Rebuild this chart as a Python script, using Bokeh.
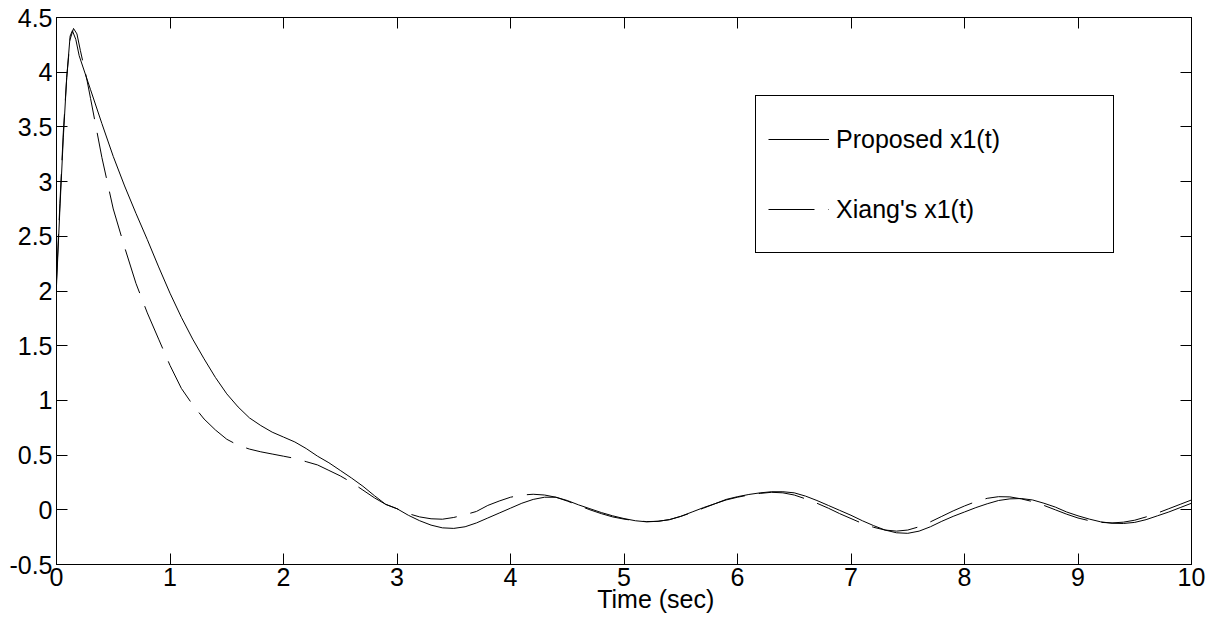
from bokeh.plotting import figure
from bokeh.models import (Range1d, LinearAxis, FixedTicker, PrintfTickFormatter, Legend,
                          CustomLabelingPolicy, CustomJSTickFormatter)
from bokeh.embed import file_html
from bokeh.resources import INLINE

# Proposed controller response x1(t)
t_proposed = [0.0, 0.03, 0.06, 0.09, 0.12, 0.14, 0.17, 0.2, 0.3, 0.4, 0.5, 0.6, 0.7, 0.8, 0.9,
              1.0, 1.1, 1.2, 1.3, 1.4, 1.5, 1.6, 1.7, 1.8, 1.9, 2.0, 2.1, 2.2, 2.3, 2.4, 2.5,
              2.6, 2.7, 2.8, 2.9, 3.0, 3.1, 3.2, 3.3, 3.4, 3.5, 3.6, 3.7, 3.8, 3.9, 4.0, 4.1,
              4.2, 4.3, 4.4, 4.5, 4.6, 4.7, 4.8, 4.9, 5.0, 5.1, 5.2, 5.3, 5.4, 5.5, 5.6, 5.7,
              5.8, 5.9, 6.0, 6.1, 6.2, 6.3, 6.4, 6.5, 6.6, 6.7, 6.8, 6.9, 7.0, 7.1, 7.2, 7.3,
              7.4, 7.5, 7.6, 7.7, 7.8, 7.9, 8.0, 8.1, 8.2, 8.3, 8.4, 8.5, 8.6, 8.7, 8.8, 8.9,
              9.0, 9.1, 9.2, 9.3, 9.4, 9.5, 9.6, 9.7, 9.8, 9.9, 10.0]
x1_proposed = [2.05, 2.75, 3.4, 3.95, 4.33, 4.38, 4.30, 4.15, 3.84, 3.53, 3.23, 2.96, 2.71, 2.47, 2.22,
               1.98, 1.76, 1.56, 1.38, 1.21, 1.06, 0.94, 0.84, 0.77, 0.71, 0.665, 0.62, 0.56, 0.49, 0.43, 0.36,
               0.29, 0.215, 0.13, 0.05, 0.01, -0.05, -0.10, -0.14, -0.165, -0.17, -0.155, -0.12, -0.075, -0.03, 0.015, 0.06,
               0.095, 0.115, 0.115, 0.085, 0.045, 0.01, -0.025, -0.055, -0.08, -0.10, -0.11, -0.105, -0.09, -0.06, -0.02, 0.02,
               0.055, 0.095, 0.12, 0.14, 0.155, 0.165, 0.165, 0.155, 0.125, 0.085, 0.04, -0.005, -0.05, -0.10, -0.145, -0.185,
               -0.21, -0.215, -0.195, -0.155, -0.105, -0.06, -0.02, 0.02, 0.055, 0.085, 0.10, 0.103, 0.09, 0.06, 0.025, -0.02,
               -0.055, -0.085, -0.11, -0.123, -0.125, -0.115, -0.09, -0.055, -0.02, 0.02, 0.06]

# Xiang's controller response x1(t)
t_xiang = [0.0, 0.03, 0.06, 0.09, 0.12, 0.15, 0.18, 0.21, 0.27, 0.3, 0.4, 0.5, 0.6, 0.7, 0.8, 0.9,
           1.0, 1.1, 1.2, 1.3, 1.4, 1.5, 1.6, 1.7, 1.8, 1.9, 2.0, 2.1, 2.2, 2.3, 2.4, 2.5,
           2.6, 2.7, 2.8, 2.9, 3.0, 3.1, 3.2, 3.3, 3.4, 3.5, 3.6, 3.7, 3.8, 3.9, 4.0, 4.1,
           4.2, 4.3, 4.4, 4.5, 4.6, 4.7, 4.8, 4.9, 5.0, 5.1, 5.2, 5.3, 5.4, 5.5, 5.6, 5.7,
           5.8, 5.9, 6.0, 6.1, 6.2, 6.3, 6.4, 6.5, 6.6, 6.7, 6.8, 6.9, 7.0, 7.1, 7.2, 7.3,
           7.4, 7.5, 7.6, 7.7, 7.8, 7.9, 8.0, 8.1, 8.2, 8.3, 8.4, 8.5, 8.6, 8.7, 8.8, 8.9,
           9.0, 9.1, 9.2, 9.3, 9.4, 9.5, 9.6, 9.7, 9.8, 9.9, 10.0]
x1_xiang = [2.1, 2.8, 3.45, 3.95, 4.3, 4.4, 4.35, 4.2, 3.92, 3.76, 3.22, 2.75, 2.40, 2.07, 1.80, 1.56,
            1.32, 1.11, 0.96, 0.83, 0.73, 0.645, 0.59, 0.555, 0.53, 0.51, 0.49, 0.47, 0.44, 0.41, 0.36, 0.31,
            0.25, 0.18, 0.11, 0.05, 0.01, -0.035, -0.065, -0.082, -0.086, -0.07, -0.045, -0.015, 0.04, 0.08, 0.115, 0.135,
            0.142, 0.135, 0.115, 0.08, 0.04, 0.0, -0.035, -0.065, -0.085, -0.10, -0.108, -0.105, -0.09, -0.06, -0.025, 0.015,
            0.055, 0.09, 0.115, 0.135, 0.15, 0.16, 0.155, 0.135, 0.10, 0.06, 0.015, -0.035, -0.08, -0.125, -0.16, -0.185,
            -0.195, -0.185, -0.155, -0.11, -0.06, -0.01, 0.035, 0.075, 0.105, 0.12, 0.118, 0.10, 0.075, 0.04, 0.0, -0.04,
            -0.075, -0.10, -0.115, -0.12, -0.113, -0.095, -0.065, -0.03, 0.01, 0.05, 0.09]

x_ticks = [0, 1, 2, 3, 4, 5, 6, 7, 8, 9, 10]
y_ticks = [-0.5, 0, 0.5, 1, 1.5, 2, 2.5, 3, 3.5, 4, 4.5]
series_labels = ["Proposed x1(t)", "Xiang's x1(t)"]
x_title = "Time (sec)"
x_title_at = 5.28

FONT = "Liberation Sans"
FS = "25px"

p = figure(width=1219, height=630, output_backend="svg", toolbar_location=None,
           x_range=Range1d(0, 10), y_range=Range1d(-0.5, 4.5),
           min_border_left=56, min_border_right=28, min_border_top=17, min_border_bottom=66,
           background_fill_color="white", border_fill_color="white")
p.grid.visible = False
p.outline_line_color = "black"
p.outline_line_alpha = 1.0
p.outline_line_width = 1

fmt = PrintfTickFormatter(format="%g")
# the mirrored box axes carry ticks only
no_labels = CustomLabelingPolicy(code="""
for (const i of Array.from(indices)) indices.unset(i)
return indices
""")


def style_axis(ax, ticks, show_labels):
    ax.ticker = FixedTicker(ticks=ticks, minor_ticks=[])
    ax.formatter = fmt
    ax.axis_line_color = "black"
    ax.axis_line_width = 1
    ax.major_tick_in = 11
    ax.major_tick_out = 0
    ax.major_tick_line_color = "black"
    ax.minor_tick_line_color = None
    ax.major_label_text_font = FONT
    ax.major_label_text_color = "black"
    if show_labels:
        ax.major_label_text_font_size = FS
    else:
        ax.major_label_text_font_size = "1px"
        ax.major_label_standoff = 0
        ax.major_label_policy = no_labels


style_axis(p.xaxis[0], x_ticks, True)
style_axis(p.yaxis[0], y_ticks, True)
p.xaxis[0].major_label_standoff = 3
p.yaxis[0].major_label_standoff = 4

top_axis = LinearAxis()
right_axis = LinearAxis()
style_axis(top_axis, x_ticks, False)
style_axis(right_axis, y_ticks, False)
p.add_layout(top_axis, "above")
p.add_layout(right_axis, "right")

# x-axis title, set under the tick-label row at its own position
title_axis = LinearAxis(ticker=FixedTicker(ticks=[x_title_at], minor_ticks=[]),
                        formatter=CustomJSTickFormatter(args=dict(label=x_title), code="return label"),
                        axis_line_color=None, major_tick_line_color=None, minor_tick_line_color=None,
                        major_tick_in=0, major_tick_out=0, major_label_standoff=-4,
                        major_label_text_font=FONT, major_label_text_font_size=FS,
                        major_label_text_color="black")
p.add_layout(title_axis, "below")

r1 = p.line(t_proposed, x1_proposed, line_color="black", line_width=1)
r2 = p.line(t_xiang, x1_xiang, line_color="black", line_width=1, line_dash="46 14")

legend = Legend(items=[(series_labels[0], [r1]), (series_labels[1], [r2])],
                location=(699, 311), orientation="vertical",
                padding=12, spacing=8, glyph_width=61, glyph_height=62,
                label_width=265, label_height=62, label_standoff=7,
                label_text_font=FONT, label_text_font_size=FS, label_text_color="black",
                border_line_color="black", border_line_alpha=1.0, border_line_width=1,
                background_fill_color="white", background_fill_alpha=1.0)
p.add_layout(legend, "center")

open("out.html", "w").write(file_html(p, INLINE))
